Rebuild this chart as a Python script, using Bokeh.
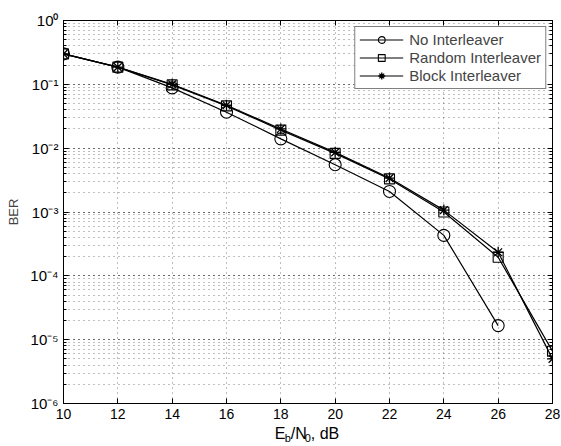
from bokeh.plotting import figure
from bokeh.layouts import column
from bokeh.models import (LogAxis, LinearAxis, FixedTicker, LogTicker, CustomJSTickFormatter,
                          Range1d, Legend, ColumnDataSource)
from bokeh.core.properties import value
from bokeh.embed import file_html
from bokeh.resources import INLINE

ebn0 = [10, 12, 14, 16, 18, 20, 22, 24, 26, 28]
ber_no = [0.30, 0.186, 0.088, 0.0366, 0.0140, 0.0055, 0.0021, 0.00043, 1.66e-5]
ber_random = [0.30, 0.186, 0.098, 0.0460, 0.0192, 0.0083, 0.0033, 0.00100, 0.000195, 6.6e-6]
ber_block = [0.30, 0.186, 0.100, 0.0470, 0.0200, 0.0086, 0.0034, 0.00107, 0.000234, 5.0e-6]
x_ticks = [10, 12, 14, 16, 18, 20, 22, 24, 26, 28]
series_names = ["No Interleaver", "Random Interleaver", "Block Interleaver"]
xlabel_parts = ["E", "b", "/N", "0", ", dB"]

FONT = "Liberation Sans"

p = figure(width=561, height=424, y_axis_type="log", output_backend="svg",
           toolbar_location=None, x_range=Range1d(10, 28), y_range=Range1d(1e-6, 1),
           min_border_left=63, min_border_right=9, min_border_top=20, min_border_bottom=21)
p.background_fill_color = "white"
p.border_fill_color = "white"
p.outline_line_color = "black"
p.outline_line_width = 1

sup = CustomJSTickFormatter(code="""
const m = {"-":"\u207b","0":"\u2070","1":"\u00b9","2":"\u00b2","3":"\u00b3","4":"\u2074","5":"\u2075","6":"\u2076","7":"\u2077","8":"\u2078","9":"\u2079"};
const e = Math.round(Math.log10(tick));
return "10" + String(e).split("").map(c => m[c]).join("");
""")
blank = CustomJSTickFormatter(code="return '';")

yt = LogTicker(num_minor_ticks=10)
xt = FixedTicker(ticks=x_ticks, minor_ticks=[])

for ax in p.xaxis:
    ax.ticker = xt
for ax in p.yaxis:
    ax.ticker = yt
    ax.formatter = sup

def style_axis(ax):
    ax.axis_line_color = "black"
    ax.axis_line_width = 1
    ax.major_tick_in = 5
    ax.major_tick_out = 0
    ax.minor_tick_in = 3
    ax.minor_tick_out = 0
    ax.major_tick_line_color = "black"
    ax.minor_tick_line_color = "black"
    ax.major_label_text_font = FONT
    ax.major_label_text_font_size = "14px"
    ax.major_label_text_color = "black"
    ax.major_label_standoff = 5

style_axis(p.xaxis[0])
style_axis(p.yaxis[0])
p.yaxis[0].major_label_text_font_size = "15px"
p.yaxis[0].axis_label = "BER"
p.yaxis[0].axis_label_text_font = FONT
p.yaxis[0].axis_label_text_font_style = "normal"
p.yaxis[0].axis_label_text_font_size = "13px"
p.yaxis[0].axis_label_standoff = 6

ra = LogAxis(ticker=yt, formatter=blank)
style_axis(ra)
ra.major_label_standoff = 0
p.add_layout(ra, "right")
ta = LinearAxis(ticker=xt, formatter=blank)
style_axis(ta)
ta.major_label_standoff = 0
p.add_layout(ta, "above")

# grids
p.xgrid.ticker = xt
p.ygrid.ticker = yt
for g in (p.xgrid[0], p.ygrid[0]):
    g.grid_line_color = "black"
    g.grid_line_alpha = 0.5
    g.grid_line_dash = "1 4"
    g.grid_line_width = 1
p.ygrid.minor_grid_line_color = "black"
p.ygrid.minor_grid_line_alpha = 0.5
p.ygrid.minor_grid_line_dash = "1 4"

lw = 1.2
r1 = p.line(ebn0[:len(ber_no)], ber_no, line_color="black", line_width=lw)
s1 = p.scatter(ebn0[:len(ber_no)], ber_no, marker="circle", size=12, fill_color=None,
               line_color="black", line_width=1.1)
r2 = p.line(ebn0, ber_random, line_color="black", line_width=lw)
s2 = p.scatter(ebn0, ber_random, marker="square", size=10, fill_color=None,
               line_color="black", line_width=1.1)
r3 = p.line(ebn0, ber_block, line_color="black", line_width=lw)
s3 = p.scatter(ebn0, ber_block, marker="asterisk", size=11, fill_color=None,
               line_color="black", line_width=1.3)

legend = Legend(items=[(series_names[0], [r1, s1]), (series_names[1], [r2, s2]),
                       (series_names[2], [r3, s3])],
                location="top_right")
legend.border_line_color = "black"
legend.border_line_width = 1
legend.background_fill_color = "white"
legend.background_fill_alpha = 1
legend.label_text_font = FONT
legend.label_text_font_size = "15px"
legend.glyph_width = 44
legend.glyph_height = 17
legend.label_height = 17
legend.spacing = 1
legend.padding = 4
legend.margin = 6
legend.label_standoff = 6
p.add_layout(legend)

# x-axis label strip with subscripts; frame aligned with the main plot's frame
p2 = figure(width=561, height=22, output_backend="svg", toolbar_location=None,
            x_range=p.x_range, y_range=Range1d(0, 22),
            x_axis_location=None, y_axis_location=None,
            min_border_left=63, min_border_right=9, min_border_top=0, min_border_bottom=0)
p2.grid.visible = False
p2.outline_line_color = None
p2.background_fill_color = "white"
p2.border_fill_color = "white"

src = ColumnDataSource(dict(
    x=[18, 18, 18, 18, 18],
    y=[13, 9, 13, 9, 13],
    dx=[-6, 4, 10, 24, 30],
    t=xlabel_parts,
    fs=["16px", "11px", "16px", "11px", "16px"],
))
p2.text(x="x", y="y", x_offset="dx", text="t", source=src, text_font=value(FONT),
        text_font_size="fs", text_color="black", text_align="left",
        text_baseline="alphabetic")

layout = column(p, p2, spacing=0)
open("out.html", "w").write(file_html(layout, INLINE))
